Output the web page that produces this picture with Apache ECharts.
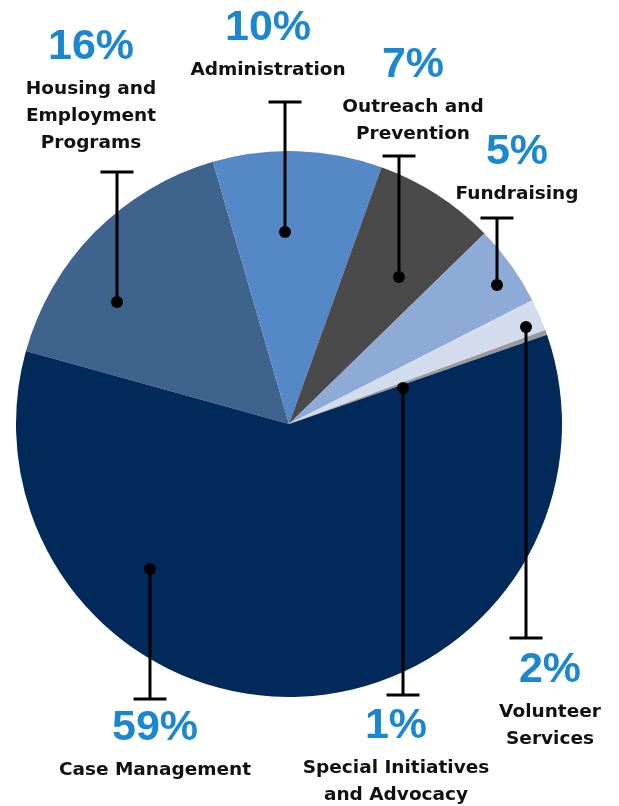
<!DOCTYPE html>
<html><head><meta charset="utf-8">
<script src="https://cdn.jsdelivr.net/npm/echarts@6/dist/echarts.min.js"></script>
<style>html,body{margin:0;padding:0;background:#fff}#c{width:619px;height:806px}</style>
</head><body><div id="c"></div>
<script>
// ---- data ----
const categories = ['Housing and\nEmployment\nPrograms', 'Administration', 'Outreach and\nPrevention', 'Fundraising', 'Volunteer\nServices', 'Special Initiatives\nand Advocacy', 'Case Management'];
const values = [16.2, 10.0, 7.2, 4.8, 1.9, 0.3, 59.6];
const percentLabels = ['16%', '10%', '7%', '5%', '2%', '1%', '59%'];

// ---- styles / layout ----
const colors = ['#3e638d', '#5588c7', '#4a4a4a', '#8eaad6', '#d3dcec', '#9a9a9a', '#012a5b'];
const CX = 289, CY = 424, R = 273;
const PCT_LH = 58, NAME_LH = 27;
// annotation layout: dot position, cap y, label center x, percent center y
const annot = [
  {dot: [117, 302], cap: 172, lx: 91, py: 47},
  {dot: [285, 232], cap: 102, lx: 268, py: 28},
  {dot: [399, 277], cap: 156, lx: 413, py: 65},
  {dot: [497, 285], cap: 218, lx: 517, py: 152},
  {dot: [526, 327], cap: 638, lx: 550, py: 670},
  {dot: [403, 388], cap: 695, lx: 396, py: 726},
  {dot: [150, 569], cap: 699, lx: 155, py: 728}
];

const leaders = [];
annot.forEach(a => {
  const x = a.dot[0];
  leaders.push({type: 'polyline', z: 100, silent: true,
    shape: {points: [[x, a.dot[1]], [x, a.cap]]},
    style: {stroke: '#000', lineWidth: 3, fill: null}});
  leaders.push({type: 'line', z: 100, silent: true,
    shape: {x1: x - 16.5, y1: a.cap, x2: x + 16.5, y2: a.cap},
    style: {stroke: '#000', lineWidth: 3}});
  leaders.push({type: 'circle', z: 101, silent: true,
    shape: {cx: x, cy: a.dot[1], r: 6},
    style: {fill: '#000'}});
});

const chart = echarts.init(document.getElementById('c'), null, {renderer: 'canvas'});
chart.setOption({
  backgroundColor: '#fff',
  animation: false,
  series: [{
    type: 'pie',
    center: [CX, CY],
    radius: R,
    startAngle: 164.5,
    clockwise: true,
    avoidLabelOverlap: false,
    silent: true,
    data: categories.map((c, i) => ({name: c, value: values[i], itemStyle: {color: colors[i]}})),
    label: {
      show: true,
      position: 'outside',
      formatter: p => '{p|' + percentLabels[p.dataIndex] + '}\n' + p.name.split('\n').map(s => '{n|' + s + '}').join('\n'),
      rich: {
        p: {fontFamily: 'Liberation Sans', fontWeight: 'bold', fontSize: 43, color: '#1b87d1', lineHeight: PCT_LH, align: 'center'},
        n: {fontFamily: 'DejaVu Sans', fontWeight: 'bold', fontSize: 18.5, color: '#111', lineHeight: NAME_LH, align: 'center'}
      }
    },
    labelLine: {show: false},
    labelLayout: function (params) {
      const a = annot[params.dataIndex];
      return {x: a.lx, y: a.py - PCT_LH / 2, align: 'center', verticalAlign: 'top'};
    }
  }],
  graphic: leaders
});
</script></body></html>
